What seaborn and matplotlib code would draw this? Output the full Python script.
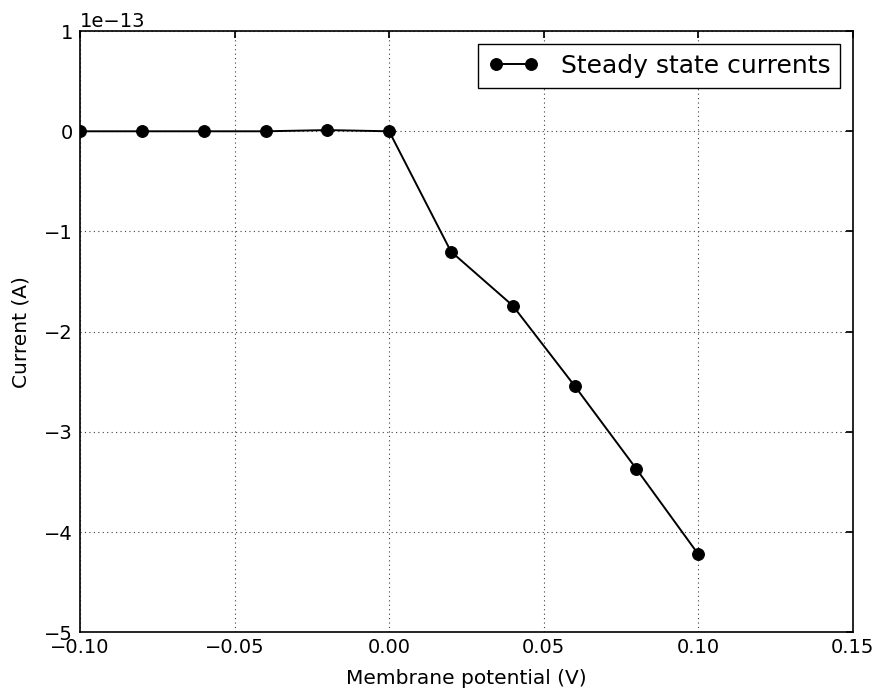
import matplotlib
matplotlib.use('Agg')
import matplotlib.pyplot as plt
import seaborn as sns
import pandas as pd

# Steady state I-V data
voltage = [-0.10, -0.08, -0.06, -0.04, -0.02, 0.00, 0.02, 0.04, 0.06, 0.08, 0.10]
current = [0.0, 0.0, 0.0, 0.0, 0.012e-13, 0.0, -1.20e-13, -1.74e-13, -2.54e-13, -3.37e-13, -4.22e-13]

df = pd.DataFrame({'Membrane potential (V)': voltage, 'Current (A)': current})

sns.set_theme(style='white')
plt.rcParams.update({
    'font.family': ['DejaVu Sans'],
    'text.color': 'black', 'axes.labelcolor': 'black',
    'xtick.color': 'black', 'ytick.color': 'black',
    'xtick.direction': 'in', 'ytick.direction': 'in',
    'xtick.top': True, 'ytick.right': True,
    'xtick.major.size': 5, 'ytick.major.size': 5,
    'xtick.major.pad': 4, 'ytick.major.pad': 5,
    'xtick.labelsize': 14, 'ytick.labelsize': 14,
    'axes.labelsize': 14.5,
    'axes.edgecolor': 'black', 'axes.linewidth': 1.2,
    'legend.numpoints': 2,
})

fig, ax = plt.subplots(figsize=(8.8, 6.91), dpi=100)
fig.subplots_adjust(left=0.091, right=0.969, top=0.955, bottom=0.085)

sns.lineplot(data=df, x='Membrane potential (V)', y='Current (A)', color='black',
             marker='o', markersize=8.5, markeredgecolor='black', linewidth=1.4,
             label='Steady state currents', ax=ax)

ax.set_xlim(-0.10, 0.15)
ax.set_ylim(-5e-13, 1e-13)
ax.set_xticks([-0.10, -0.05, 0.00, 0.05, 0.10, 0.15])
ax.set_xticklabels(['\u22120.10', '\u22120.05', '0.00', '0.05', '0.10', '0.15'])
ax.ticklabel_format(axis='y', style='sci', scilimits=(0, 0))
ax.yaxis.get_offset_text().set_fontsize(14)
ax.set_xlabel('Membrane potential (V)', labelpad=9)
ax.set_ylabel('Current (A)', labelpad=10)
ax.grid(True, color='0.25', linestyle=(0, (1, 3)), linewidth=0.8)
for s in ax.spines.values():
    s.set_visible(True)
    s.set_color('black')

leg = ax.legend(loc='upper right', fontsize=18, fancybox=False, frameon=True,
                edgecolor='black', framealpha=1, handlelength=2.0,
                borderpad=0.4, handletextpad=0.9, borderaxespad=0.5)
leg.get_frame().set_linewidth(1.0)

fig.savefig('out.png', dpi=100, facecolor='white')
